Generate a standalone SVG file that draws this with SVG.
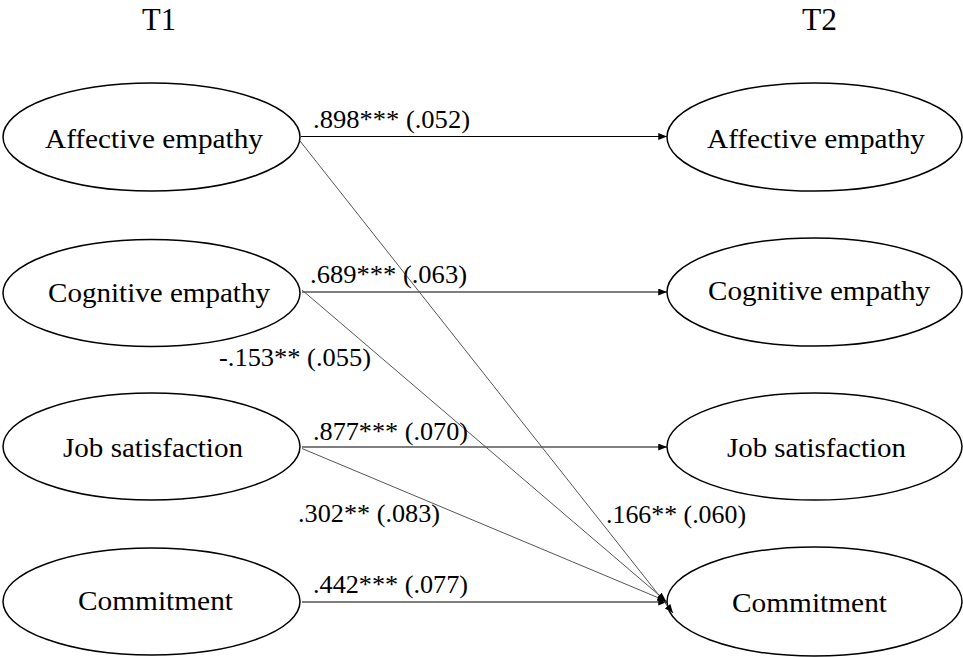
<svg xmlns="http://www.w3.org/2000/svg" width="963" height="657" viewBox="0 0 963 657">
<defs>
<style>
.node ellipse{fill:#fff;stroke:#000;stroke-width:1.5}
text{font-family:'Liberation Serif','Times New Roman','DejaVu Serif',serif;fill:#000}
.node text{font-size:28px}
.hdr{font-size:32px}
.lbl{font-size:25px}
.h{stroke:#000;stroke-width:1.2;fill:none}
.d{stroke:#555;stroke-width:1;fill:none}
</style>
<marker id="arr" viewBox="0 0 10 8" refX="10" refY="4" markerWidth="9" markerHeight="7" markerUnits="userSpaceOnUse" orient="auto">
<path d="M0,0 L10,4 L0,8 Z" fill="#000"/>
</marker>
</defs>
<rect width="963" height="657" fill="#fff"/>
<text class="hdr" x="142" y="30" textLength="34" lengthAdjust="spacingAndGlyphs">T1</text>
<text class="hdr" x="802" y="30" textLength="35" lengthAdjust="spacingAndGlyphs">T2</text>

<g id="t1-affective" class="node">
<ellipse cx="151.5" cy="137" rx="148.5" ry="54"/>
<text x="45" y="148" textLength="218" lengthAdjust="spacingAndGlyphs">Affective empathy</text>
</g>
<g id="t1-cognitive" class="node">
<ellipse cx="151.5" cy="293" rx="148.5" ry="53.5"/>
<text x="48" y="302" textLength="222" lengthAdjust="spacingAndGlyphs">Cognitive empathy</text>
</g>
<g id="t1-job" class="node">
<ellipse cx="151.5" cy="446.5" rx="148.5" ry="53.5"/>
<text x="63" y="457" textLength="180" lengthAdjust="spacingAndGlyphs">Job satisfaction</text>
</g>
<g id="t1-commitment" class="node">
<ellipse cx="151.5" cy="601.5" rx="148.5" ry="53.5"/>
<text x="78" y="610" textLength="155" lengthAdjust="spacingAndGlyphs">Commitment</text>
</g>

<g id="t2-affective" class="node">
<ellipse cx="814.5" cy="137" rx="147.5" ry="54"/>
<text x="707" y="148" textLength="218" lengthAdjust="spacingAndGlyphs">Affective empathy</text>
</g>
<g id="t2-cognitive" class="node">
<ellipse cx="814.5" cy="292" rx="147.5" ry="54"/>
<text x="708" y="300" textLength="222" lengthAdjust="spacingAndGlyphs">Cognitive empathy</text>
</g>
<g id="t2-job" class="node">
<ellipse cx="814.5" cy="446.5" rx="147.5" ry="53.5"/>
<text x="727" y="457" textLength="179" lengthAdjust="spacingAndGlyphs">Job satisfaction</text>
</g>
<g id="t2-commitment" class="node">
<ellipse cx="814.5" cy="601.5" rx="147.5" ry="54.5"/>
<text x="732" y="612" textLength="155" lengthAdjust="spacingAndGlyphs">Commitment</text>
</g>

<g id="connectors">
<line class="h" x1="301" y1="136.5" x2="667" y2="136.5" marker-end="url(#arr)"/>
<line class="h" x1="302" y1="292" x2="667" y2="292" marker-end="url(#arr)"/>
<line class="h" x1="302" y1="447" x2="667" y2="447" marker-end="url(#arr)"/>
<line class="h" x1="302" y1="602" x2="667" y2="602" marker-end="url(#arr)"/>
<line class="d" x1="300" y1="141" x2="673" y2="613" marker-end="url(#arr)"/>
<line class="d" x1="302" y1="290" x2="666" y2="601" marker-end="url(#arr)"/>
<line class="d" x1="302" y1="448.5" x2="666" y2="601" marker-end="url(#arr)"/>
<text class="lbl" x="313" y="128" textLength="157" lengthAdjust="spacingAndGlyphs">.898*** (.052)</text>
<text class="lbl" x="310" y="283" textLength="157" lengthAdjust="spacingAndGlyphs">.689*** (.063)</text>
<text class="lbl" x="219" y="366" textLength="152" lengthAdjust="spacingAndGlyphs">-.153** (.055)</text>
<text class="lbl" x="313" y="440" textLength="155" lengthAdjust="spacingAndGlyphs">.877*** (.070)</text>
<text class="lbl" x="298" y="522" textLength="142" lengthAdjust="spacingAndGlyphs">.302** (.083)</text>
<text class="lbl" x="606" y="523" textLength="140" lengthAdjust="spacingAndGlyphs">.166** (.060)</text>
<text class="lbl" x="313" y="593" textLength="155" lengthAdjust="spacingAndGlyphs">.442*** (.077)</text>
</g>
</svg>
